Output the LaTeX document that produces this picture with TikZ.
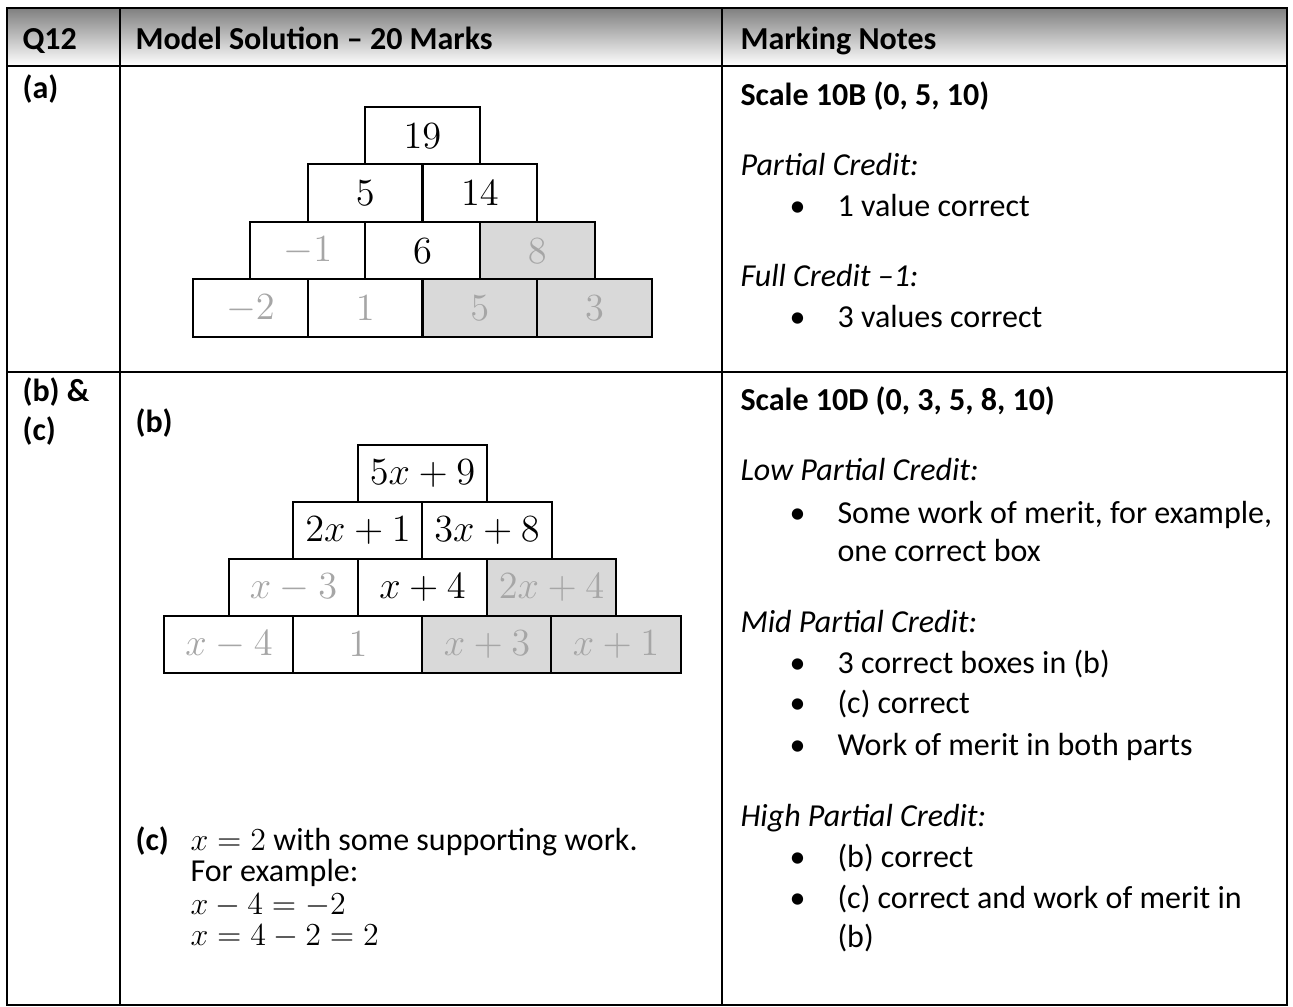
\documentclass[tikz,border=0pt]{standalone}
\usepackage[no-math]{fontspec}
\setmainfont{Carlito}
\usepackage{xcolor}
\usepackage{tikz}

\definecolor{shade}{HTML}{D9D9D9}
\definecolor{faint}{HTML}{A6A6A6}

\tikzset{
  body/.style={anchor=base west, inner sep=0pt, font=\fontsize{12pt}{14.4pt}\selectfont},
  bodybf/.style={body, font=\fontsize{12pt}{14.4pt}\selectfont\bfseries},
  bodyit/.style={body, font=\fontsize{12pt}{14.4pt}\selectfont\itshape},
  sums/.style={body, font=\fontsize{13pt}{15pt}\selectfont},
  rule/.style={line width=0.75pt},
  brickA/.style={draw, rule, rectangle, minimum width=43pt, minimum height=21.56pt, inner sep=0pt, fill=white, font=\fontsize{13.5pt}{16pt}\selectfont},
  brickB/.style={brickA, minimum width=48.4pt, minimum height=21.4pt},
  faded/.style={text=faint},
  shaded/.style={fill=shade, text=faint},
}

\begin{document}
\begin{tikzpicture}[x=0.375pt, y=-0.375pt]%
\useasboundingbox (0,0) rectangle (1293,1007);%
% table frame
\fill[shade] (7,8) rectangle (1287,66);%
\draw[rule] (7,8) rectangle (1287,1005);%
\draw[rule] (7,66) -- (1287,66);%
\draw[rule] (7,372) -- (1287,372);%
\draw[rule] (120,8) -- (120,1005);%
\draw[rule] (722,8) -- (722,1005);%
% header row
\node[bodybf] (q) at (22,49.5) {Q12};%
\node[bodybf] (sol) at (135,49.5) {Model Solution – 20 Marks};%
\node[bodybf] (notes) at (740,49.5) {Marking Notes};%
% part (a)
\node[bodybf] (pa) at (22,99) {(a)};%
\node[brickA] (a1) at (422.5,135.75) {$19$};%
\node[brickA] (a21) at (365.15,193.25) {$5$};%
\node[brickA] (a22) at (479.85,193.25) {$14$};%
\node[brickA, faded] (a31) at (307.8,250.75) {$-1$};%
\node[brickA] (a32) at (422.5,250.75) {$6$};%
\node[brickA, shaded] (a33) at (537.2,250.75) {$8$};%
\node[brickA, faded] (a41) at (250.45,308.25) {$-2$};%
\node[brickA, faded] (a42) at (365.15,308.25) {$1$};%
\node[brickA, shaded] (a43) at (479.85,308.25) {$5$};%
\node[brickA, shaded] (a44) at (594.55,308.25) {$3$};%
% notes (a)
\node[bodybf] (scaleA) at (740,106) {Scale 10B (0, 5, 10)};%
\node[bodyit] (pcA) at (740,176) {Partial Credit:};%
\node[body] (dotA1) at (789,217) {\textbullet};%
\node[body] (itA1) at (837,217) {1 value correct};%
\node[bodyit] (fcA) at (740,287) {Full Credit –1:};%
\node[body] (dotA2) at (789,328) {\textbullet};%
\node[body] (itA2) at (837,328) {3 values correct};%
% parts (b) and (c)
\node[bodybf] (pb) at (22,402) {(b) \&};%
\node[bodybf] (pc) at (22,441) {(c)};%
\node[bodybf] (lb) at (135,433) {(b)};%
\node[brickB] (b1) at (422.5,473.5) {$5x+9$};%
\node[brickB] (b21) at (358,530.5) {$2x+1$};%
\node[brickB] (b22) at (487,530.5) {$3x+8$};%
\node[brickB, faded] (b31) at (293.5,587.5) {$x-3$};%
\node[brickB] (b32) at (422.5,587.5) {$x+4$};%
\node[brickB, shaded] (b33) at (551.5,587.5) {$2x+4$};%
\node[brickB, faded] (b41) at (229,644.5) {$x-4$};%
\node[brickB, faded] (b42) at (358,644.5) {$1$};%
\node[brickB, shaded] (b43) at (487,644.5) {$x+3$};%
\node[brickB, shaded] (b44) at (616,644.5) {$x+1$};%
\node[bodybf] (lc) at (135,850) {(c)};%
\node[body] (c1) at (190,850) {{\fontsize{13pt}{15pt}\selectfont$x=2$} with some supporting work.};%
\node[body] (c2) at (190,881) {For example:};%
\node[sums] (c3) at (190,914) {$x-4=-2$};%
\node[sums] (c4) at (190,945) {$x=4-2=2$};%
% notes (b) and (c)
\node[bodybf] (scaleB) at (740,411) {Scale 10D (0, 3, 5, 8, 10)};%
\node[bodyit] (lowB) at (740,481) {Low Partial Credit:};%
\node[body] (dotB1) at (789,523) {\textbullet};%
\node[body] (itB1) at (837,523) {Some work of merit, for example,};%
\node[body] (itB1b) at (837,561) {one correct box};%
\node[bodyit] (midB) at (740,632) {Mid Partial Credit:};%
\node[body] (dotB2) at (789,673) {\textbullet};%
\node[body] (itB2) at (837,673) {3 correct boxes in (b)};%
\node[body] (dotB3) at (789,713) {\textbullet};%
\node[body] (itB3) at (837,713) {(c) correct};%
\node[body] (dotB4) at (789,755) {\textbullet};%
\node[body] (itB4) at (837,755) {Work of merit in both parts};%
\node[bodyit] (highB) at (740,826) {High Partial Credit:};%
\node[body] (dotB5) at (789,867) {\textbullet};%
\node[body] (itB5) at (837,867) {(b) correct};%
\node[body] (dotB6) at (789,908) {\textbullet};%
\node[body] (itB6) at (837,908) {(c) correct and work of merit in};%
\node[body] (itB6b) at (837,947) {(b)};%
\end{tikzpicture}
\end{document}
